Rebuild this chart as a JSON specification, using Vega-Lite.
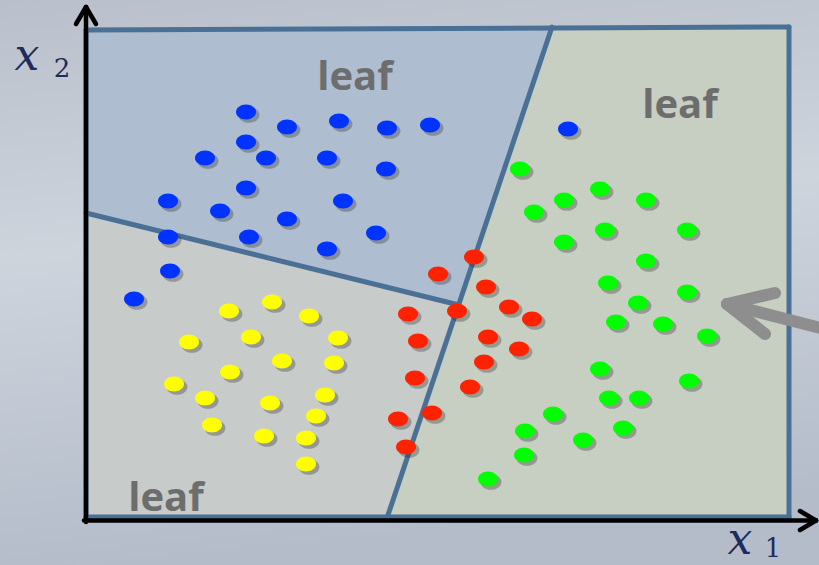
{
  "$schema": "https://vega.github.io/schema/vega-lite/v6.json",
  "width": 819,
  "height": 565,
  "padding": 0,
  "autosize": {"type": "none"},
  "background": "#bfc6d0",
  "config": {"view": {"stroke": null}},
  "datasets": {
    "bg": [{"x": 0, "y": 0, "x2": 819, "y2": 565}],
    "regions": [
      {"region": "blue", "i": 1, "x": 86, "y": 30},
      {"region": "blue", "i": 2, "x": 552, "y": 27},
      {"region": "blue", "i": 3, "x": 459, "y": 305},
      {"region": "blue", "i": 4, "x": 86, "y": 213},
      {"region": "gray", "i": 1, "x": 86, "y": 213},
      {"region": "gray", "i": 2, "x": 459, "y": 305},
      {"region": "gray", "i": 3, "x": 387, "y": 518},
      {"region": "gray", "i": 4, "x": 86, "y": 518},
      {"region": "green", "i": 1, "x": 552, "y": 27},
      {"region": "green", "i": 2, "x": 789, "y": 27},
      {"region": "green", "i": 3, "x": 789, "y": 518},
      {"region": "green", "i": 4, "x": 387, "y": 518}
    ],
    "borders": [
      {"x": 86, "y": 30, "x2": 789, "y2": 27},
      {"x": 789, "y": 27, "x2": 789, "y2": 518},
      {"x": 86, "y": 30, "x2": 86, "y2": 518},
      {"x": 86, "y": 517, "x2": 789, "y2": 517},
      {"x": 552, "y": 27, "x2": 387, "y2": 518},
      {"x": 86, "y": 213, "x2": 459, "y2": 305}
    ],
    "axes": [
      {"x": 86, "y": 522, "x2": 86, "y2": 7},
      {"x": 84, "y": 520.5, "x2": 816, "y2": 520.5},
      {"x": 76, "y": 24, "x2": 86, "y2": 7},
      {"x": 96, "y": 24, "x2": 86, "y2": 7},
      {"x": 800, "y": 511, "x2": 816, "y2": 520.5},
      {"x": 800, "y": 530, "x2": 816, "y2": 520.5}
    ],
    "arrow": [
      {"x": 727, "y": 304, "x2": 840, "y2": 333},
      {"x": 727, "y": 304, "x2": 775, "y2": 293},
      {"x": 727, "y": 304, "x2": 765, "y2": 334}
    ],
    "points": [
      {"c": "blue", "x": 246, "y": 112},
      {"c": "blue", "x": 287, "y": 127},
      {"c": "blue", "x": 339, "y": 121},
      {"c": "blue", "x": 387, "y": 128},
      {"c": "blue", "x": 430, "y": 125},
      {"c": "blue", "x": 246, "y": 142},
      {"c": "blue", "x": 205, "y": 158},
      {"c": "blue", "x": 266, "y": 158},
      {"c": "blue", "x": 327, "y": 158},
      {"c": "blue", "x": 386, "y": 169},
      {"c": "blue", "x": 246, "y": 188},
      {"c": "blue", "x": 168, "y": 201},
      {"c": "blue", "x": 220, "y": 211},
      {"c": "blue", "x": 343, "y": 201},
      {"c": "blue", "x": 287, "y": 219},
      {"c": "blue", "x": 168, "y": 237},
      {"c": "blue", "x": 249, "y": 237},
      {"c": "blue", "x": 327, "y": 249},
      {"c": "blue", "x": 376, "y": 233},
      {"c": "blue", "x": 170, "y": 271},
      {"c": "blue", "x": 134, "y": 299},
      {"c": "blue", "x": 568, "y": 129},
      {"c": "yellow", "x": 272, "y": 302},
      {"c": "yellow", "x": 229, "y": 311},
      {"c": "yellow", "x": 309, "y": 316},
      {"c": "yellow", "x": 189, "y": 342},
      {"c": "yellow", "x": 251, "y": 337},
      {"c": "yellow", "x": 338, "y": 338},
      {"c": "yellow", "x": 282, "y": 361},
      {"c": "yellow", "x": 334, "y": 363},
      {"c": "yellow", "x": 230, "y": 372},
      {"c": "yellow", "x": 174, "y": 384},
      {"c": "yellow", "x": 205, "y": 398},
      {"c": "yellow", "x": 270, "y": 403},
      {"c": "yellow", "x": 325, "y": 395},
      {"c": "yellow", "x": 316, "y": 416},
      {"c": "yellow", "x": 212, "y": 425},
      {"c": "yellow", "x": 264, "y": 436},
      {"c": "yellow", "x": 306, "y": 438},
      {"c": "yellow", "x": 306, "y": 464},
      {"c": "red", "x": 474, "y": 257},
      {"c": "red", "x": 438, "y": 274},
      {"c": "red", "x": 486, "y": 287},
      {"c": "red", "x": 509, "y": 307},
      {"c": "red", "x": 532, "y": 319},
      {"c": "red", "x": 457, "y": 311},
      {"c": "red", "x": 408, "y": 314},
      {"c": "red", "x": 488, "y": 337},
      {"c": "red", "x": 519, "y": 349},
      {"c": "red", "x": 418, "y": 341},
      {"c": "red", "x": 484, "y": 362},
      {"c": "red", "x": 415, "y": 378},
      {"c": "red", "x": 470, "y": 387},
      {"c": "red", "x": 432, "y": 413},
      {"c": "red", "x": 398, "y": 419},
      {"c": "red", "x": 406, "y": 447},
      {"c": "green", "x": 520, "y": 169},
      {"c": "green", "x": 600, "y": 189},
      {"c": "green", "x": 564, "y": 200},
      {"c": "green", "x": 646, "y": 200},
      {"c": "green", "x": 534, "y": 212},
      {"c": "green", "x": 605, "y": 230},
      {"c": "green", "x": 687, "y": 230},
      {"c": "green", "x": 564, "y": 242},
      {"c": "green", "x": 646, "y": 261},
      {"c": "green", "x": 608, "y": 283},
      {"c": "green", "x": 687, "y": 292},
      {"c": "green", "x": 638, "y": 303},
      {"c": "green", "x": 616, "y": 322},
      {"c": "green", "x": 663, "y": 324},
      {"c": "green", "x": 707, "y": 336},
      {"c": "green", "x": 600, "y": 369},
      {"c": "green", "x": 689, "y": 381},
      {"c": "green", "x": 609, "y": 398},
      {"c": "green", "x": 639, "y": 398},
      {"c": "green", "x": 553, "y": 414},
      {"c": "green", "x": 623, "y": 428},
      {"c": "green", "x": 525, "y": 431},
      {"c": "green", "x": 583, "y": 440},
      {"c": "green", "x": 524, "y": 455},
      {"c": "green", "x": 488, "y": 479}
    ],
    "leaf": [
      {"t": "leaf", "x": 355, "y": 90},
      {"t": "leaf", "x": 680, "y": 118},
      {"t": "leaf", "x": 166, "y": 511}
    ],
    "xvar": [
      {"t": "x", "x": 27, "y": 70},
      {"t": "x", "x": 740, "y": 554}
    ],
    "subs": [
      {"t": "2", "x": 62, "y": 77},
      {"t": "1", "x": 773, "y": 557}
    ]
  },
  "encoding": {
    "x": {"field": "x", "type": "quantitative", "scale": {"domain": [0, 819], "nice": false, "zero": false}, "axis": null},
    "y": {"field": "y", "type": "quantitative", "scale": {"domain": [0, 565], "nice": false, "zero": false, "reverse": true}, "axis": null}
  },
  "layer": [
    {
      "data": {"name": "bg"},
      "mark": {"type": "rect", "color": {"gradient": "linear", "x1": 0, "y1": 0, "x2": 0.15, "y2": 1, "stops": [{"offset": 0, "color": "#b9c0cb"}, {"offset": 0.45, "color": "#cdd4dc"}, {"offset": 1, "color": "#b4bcca"}]}},
      "encoding": {"x2": {"field": "x2"}, "y2": {"field": "y2"}}
    },
    {
      "data": {"name": "regions"},
      "mark": {"type": "line", "interpolate": "linear-closed", "strokeWidth": 0},
      "encoding": {
        "detail": {"field": "region"},
        "order": {"field": "i", "type": "quantitative"},
        "fill": {"field": "region", "type": "nominal", "scale": {"domain": ["blue", "gray", "green"], "range": ["#aebdcf", "#c7cbca", "#c6cfc1"]}, "legend": null}
      }
    },
    {
      "data": {"name": "borders"},
      "mark": {"type": "rule", "color": "#4a7096", "strokeWidth": 5, "strokeCap": "round"},
      "encoding": {"x2": {"field": "x2"}, "y2": {"field": "y2"}}
    },
    {
      "data": {"name": "axes"},
      "mark": {"type": "rule", "color": "#000000", "strokeWidth": 4.5, "strokeCap": "round"},
      "encoding": {"x2": {"field": "x2"}, "y2": {"field": "y2"}}
    },
    {
      "data": {"name": "points"},
      "mark": {"type": "point", "filled": true, "shape": "M-1,0A1,0.75,0,1,0,1,0A1,0.75,0,1,0,-1,0Z", "size": 440, "color": "#222222", "opacity": 0.3, "xOffset": 3, "yOffset": 3, "strokeWidth": 0}
    },
    {
      "data": {"name": "points"},
      "mark": {"type": "point", "filled": true, "shape": "M-1,0A1,0.75,0,1,0,1,0A1,0.75,0,1,0,-1,0Z", "size": 400, "opacity": 1, "strokeWidth": 0},
      "encoding": {
        "color": {"field": "c", "type": "nominal", "scale": {"domain": ["blue", "yellow", "red", "green"], "range": ["#0033ff", "#ffff00", "#ff2200", "#00ff00"]}, "legend": null}
      }
    },
    {
      "data": {"name": "leaf"},
      "mark": {"type": "text", "font": "Open Sans", "fontWeight": "bold", "fontSize": 40, "color": "#6d6d6d", "align": "center", "baseline": "alphabetic"},
      "encoding": {"text": {"field": "t"}}
    },
    {
      "data": {"name": "xvar"},
      "mark": {"type": "text", "font": "DejaVu Serif", "fontStyle": "italic", "fontSize": 44, "color": "#1e2b5c", "align": "center", "baseline": "alphabetic"},
      "encoding": {"text": {"field": "t"}}
    },
    {
      "data": {"name": "subs"},
      "mark": {"type": "text", "font": "DejaVu Serif", "fontSize": 26, "color": "#1e2b5c", "align": "center", "baseline": "alphabetic"},
      "encoding": {"text": {"field": "t"}}
    },
    {
      "data": {"name": "arrow"},
      "mark": {"type": "rule", "color": "#8e8e8e", "strokeWidth": 12, "strokeCap": "round"},
      "encoding": {"x2": {"field": "x2"}, "y2": {"field": "y2"}}
    }
  ]
}
